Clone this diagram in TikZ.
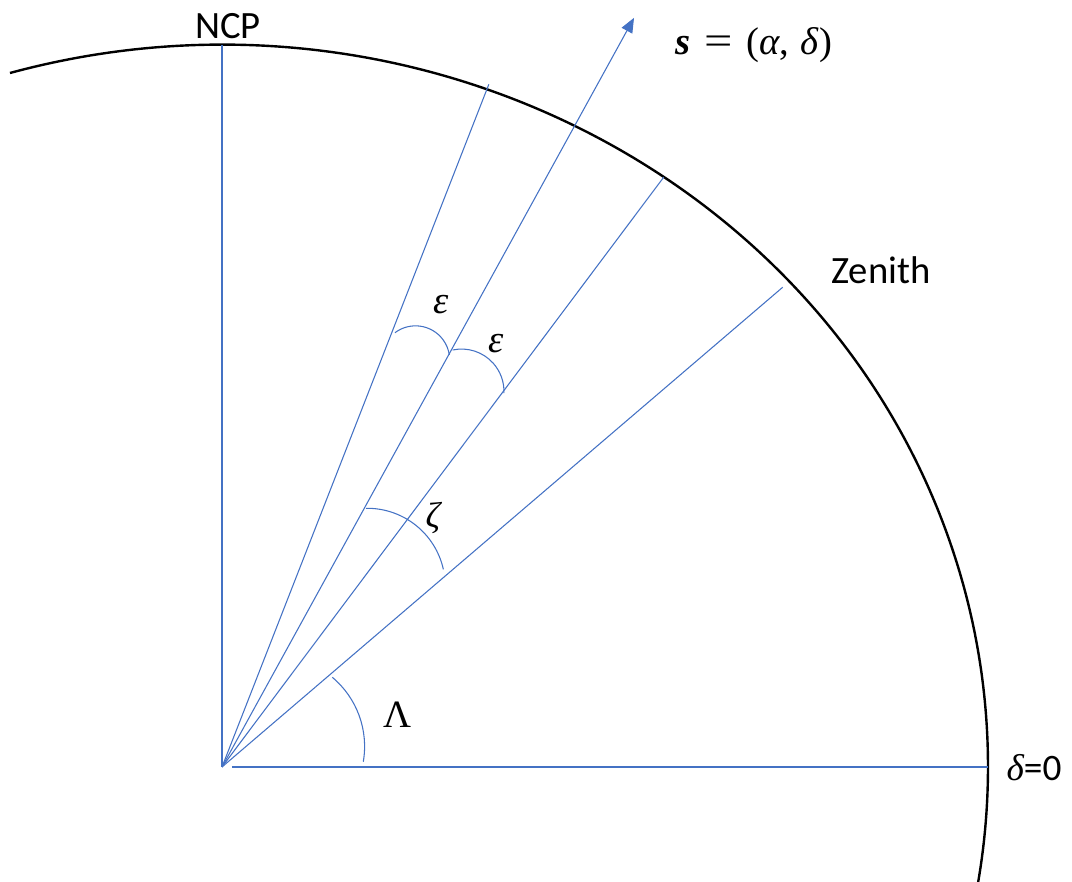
\documentclass[tikz,border=0pt]{standalone}
\usepackage{graphicx}
\usepackage{fontspec}
\setmainfont{Carlito}
\newfontfamily\grk{Liberation Serif}
\usetikzlibrary{arrows.meta}
\definecolor{pblue}{HTML}{4472C4}
\tikzset{
  ray/.style={draw=pblue, line width=0.8pt},
  angarc/.style={draw=pblue, line width=0.8pt},
  sky/.style={draw=black, line width=1.8pt},
  lbl/.style={inner sep=0pt, font=\fontsize{29}{35}\selectfont},
  glbl/.style={inner sep=0pt, font=\fontsize{29}{35}\selectfont\grk},
}
\begin{document}
\begin{tikzpicture}[x=0.75pt,y=0.75pt]
\useasboundingbox (-222,-115) rectangle (850,767);
% points
\coordinate (O) at (0,0);
\coordinate (NCPpt) at (0,722);
\coordinate (E1) at (68.65:733);
\coordinate (S) at (61.19:855);
\coordinate (E2) at (53.17:737);
\coordinate (Z) at (40.55:738);
\coordinate (H0) at (10,0);
\coordinate (H1) at (766,0);
\coordinate (SkyStart) at (-212,694);
% angle-arc start points
\coordinate (epsAstart) at (173,434.3);
\coordinate (epsBstart) at (230.7,417);
\coordinate (zetastart) at (144,258.7);
\coordinate (lamstart) at (110.3,89.7);
% celestial sphere (elliptical arc)
\draw[sky] (SkyStart) arc[start angle=106.07, end angle=-9.2, x radius=766, y radius=722];
% rays
\draw[ray] (O) -- (NCPpt);
\draw[ray] (O) -- (E1);
\draw[ray, -{Triangle[length=11pt,width=9pt]}] (O) -- (S);
\draw[ray] (O) -- (E2);
\draw[ray] (O) -- (Z);
\draw[ray] (H0) -- (H1);
% angle arcs
\draw[angarc] (lamstart) arc[start angle=50.1, end angle=-9.8, radius=90.1];
\draw[angarc] (zetastart) arc[start angle=90.9, end angle=12.5, radius=78];
\draw[angarc] (epsAstart) arc[start angle=126.9, end angle=8.6, radius=34.2];
\draw[angarc] (epsBstart) arc[start angle=102.1, end angle=-2.4, radius=42.4];
% labels
\node[lbl] (ncp) at (6,741) {NCP};
\node[glbl] (slab) at (532,722) {{\bfseries\itshape s}\hspace{0.35em}\scalebox{1.3}[1.05]{=}\hspace{0.35em}(\textit{α},\hspace{0.3em}\textit{δ})};
\node[lbl] (zen) at (659,497) {Zenith};
\node[glbl] (eps1) at (219.5,462.5) {\textit{ε}};
\node[glbl] (eps2) at (274.5,423.5) {\textit{ε}};
\node[glbl, font=\fontsize{27}{32}\selectfont\grk] (zeta) at (212,249) {\textit{ζ}};
\node[glbl] (lam) at (176,52) {Λ};
\node[lbl, font=\fontsize{28}{34}\selectfont] (dz) at (812,-1) {{\grk\itshape δ}=0};
\end{tikzpicture}
\end{document}
